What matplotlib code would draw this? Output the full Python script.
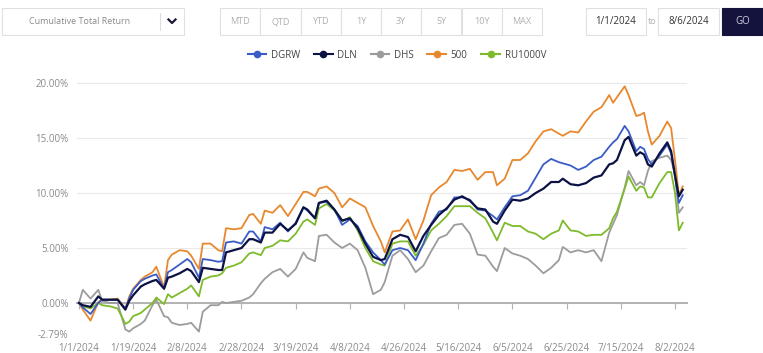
import matplotlib.pyplot as plt
from matplotlib.patches import Rectangle
from matplotlib.lines import Line2D

W, H = 763, 353

# trading-day index of each sample (0 = 1/1/2024)
idx = [0, 1, 3, 5, 6, 8, 10, 12, 13, 14,
       16, 17, 19, 20, 22, 23, 24, 26, 28, 29,
       31, 32, 34, 36, 37, 38, 40, 42, 44, 45,
       47, 48, 50, 52, 54, 56, 58, 59, 61, 62,
       64, 66, 68, 70, 72, 74, 76, 78, 79, 81,
       83, 85, 87, 89, 91, 93, 95, 97, 99, 101,
       103, 105, 107, 108, 110, 112, 114, 116, 118, 120,
       122, 124, 125, 127, 129, 131, 133, 135, 137, 138,
       139, 141, 142, 144, 145, 146, 147, 148, 150, 152,
       153, 154, 155, 156]

sp500 = [0.0, -0.6, -1.6, 0.1, 0.3, 0.3, 0.4, -0.5, 0.6, 1.3,
         2.1, 2.4, 2.8, 3.3, 1.4, 3.9, 4.4, 4.8, 4.7, 4.3,
         3.1, 5.4, 5.4, 4.8, 4.7, 6.8, 6.7, 6.8, 8.0, 8.1,
         7.2, 8.4, 8.2, 8.9, 7.9, 9.0, 10.1, 10.1, 9.7, 10.4,
         10.6, 10.0, 8.7, 9.5, 9.1, 8.7, 7.0, 5.6, 4.6, 6.5,
         6.6, 7.6, 5.8, 7.5, 9.8, 10.5, 11.0, 12.1, 12.0, 12.2,
         11.2, 11.9, 11.9, 10.7, 11.3, 13.0, 13.0, 13.6, 14.7, 15.6,
         15.8, 15.4, 15.2, 15.6, 15.5, 16.5, 17.4, 17.8, 18.9, 18.2,
         18.7, 19.7, 18.9, 17.0, 17.1, 17.3, 15.6, 14.4, 15.2, 16.5,
         15.9, 13.0, 9.8, 10.6]

dgrw = [0.0, -0.4, -1.0, 0.0, 0.3, 0.3, 0.3, -0.5, 0.4, 1.2,
        2.0, 2.2, 2.5, 2.6, 1.3, 2.8, 3.0, 3.5, 4.0, 3.7,
        2.3, 4.0, 3.9, 3.75, 3.8, 5.5, 5.6, 5.4, 6.5, 6.5,
        5.6, 6.9, 6.7, 7.3, 6.5, 7.3, 8.7, 8.4, 7.7, 9.1,
        9.2, 8.5, 7.1, 7.6, 7.0, 5.6, 4.6, 3.9, 3.5, 4.8,
        5.0, 4.8, 3.9, 5.4, 7.2, 8.3, 8.5, 9.6, 9.6, 9.4,
        8.5, 8.4, 7.9, 7.6, 8.7, 9.7, 9.8, 10.2, 11.4, 12.6,
        13.1, 12.8, 12.7, 12.5, 12.1, 12.4, 13.0, 13.3, 14.2, 14.6,
        14.9, 16.1, 15.6, 13.8, 14.2, 14.0, 13.1, 12.6, 13.4, 14.4,
        13.6, 11.5, 9.1, 9.8]

dln = [0.0, -0.2, -0.35, 0.6, 0.3, 0.3, 0.3, -0.6, 0.2, 0.7,
       1.5, 1.7, 2.0, 2.1, 1.3, 2.3, 2.4, 2.7, 3.1, 2.9,
       1.9, 3.2, 3.1, 3.0, 3.0, 4.6, 4.8, 5.0, 5.8, 5.8,
       5.5, 6.4, 6.4, 7.2, 6.6, 7.2, 8.7, 8.5, 7.7, 9.1,
       9.3, 8.5, 7.5, 7.7, 6.8, 5.4, 4.2, 3.9, 4.0, 5.8,
       6.2, 6.0, 4.7, 6.1, 7.1, 8.0, 8.6, 9.4, 9.7, 9.3,
       8.6, 8.5, 7.4, 7.2, 8.4, 9.4, 9.3, 9.5, 10.0, 10.4,
       11.0, 11.0, 11.3, 10.8, 10.7, 10.9, 11.4, 11.6, 12.6, 12.7,
       13.0, 14.8, 15.1, 13.4, 13.7, 13.5, 12.6, 12.4, 13.6, 14.6,
       13.8, 11.6, 9.7, 10.3]

ru1000v = [0.0, -0.3, -0.5, 0.0, -0.2, -0.3, -0.5, -1.9, -1.7, -1.2,
           -0.9, -0.6, 0.0, 0.5, -0.1, 0.8, 0.5, 0.9, 1.3, 1.6,
           0.6, 2.1, 2.4, 2.5, 2.7, 3.2, 3.4, 3.7, 4.5, 4.6,
           4.35, 5.0, 5.2, 5.7, 5.6, 6.3, 7.4, 7.6, 7.1, 8.6,
           9.0, 8.4, 7.4, 7.8, 6.6, 5.0, 3.8, 3.5, 3.4, 5.4,
           5.6, 5.6, 4.3, 5.3, 6.6, 7.2, 7.9, 8.8, 8.8, 8.8,
           8.2, 7.7, 6.4, 5.7, 7.3, 7.0, 7.0, 6.5, 6.3, 5.8,
           6.3, 6.6, 7.5, 6.6, 6.5, 6.1, 6.2, 6.2, 6.8, 7.7,
           8.3, 10.4, 11.5, 10.2, 10.6, 10.5, 9.6, 9.6, 10.9, 11.9,
           11.9, 10.0, 6.6, 7.3]

dhs = [0.0, 1.2, 0.4, 1.2, 0.2, 0.0, 0.0, -2.4, -2.6, -2.3,
       -1.9, -1.6, -0.2, 0.3, -1.2, -1.3, -1.8, -2.0, -1.9, -1.8,
       -2.6, -0.8, -0.2, -0.2, 0.1, 0.0, 0.1, 0.2, 0.5, 0.8,
       1.8, 2.2, 2.8, 3.1, 2.4, 3.1, 4.6, 4.1, 3.8, 6.1,
       6.2, 5.5, 5.0, 5.4, 4.8, 3.2, 0.8, 1.2, 1.9, 4.3,
       4.8, 4.0, 2.8, 3.4, 4.7, 5.9, 6.2, 7.1, 7.2, 6.3,
       4.4, 4.3, 3.3, 2.9, 5.0, 4.5, 4.3, 4.0, 3.4, 2.7,
       3.2, 3.9, 5.1, 4.6, 4.8, 4.6, 4.8, 3.8, 6.4, 7.2,
       8.0, 10.5, 12.0, 10.7, 11.0, 10.7, 12.0, 12.9, 13.2, 13.4,
       13.0, 11.7, 8.2, 8.7]

tick_idx = list(range(0, 155, 14))
tick_labels = ['1/1/2024', '1/19/2024', '2/8/2024', '2/28/2024', '3/19/2024',
               '4/8/2024', '4/26/2024', '5/16/2024', '6/5/2024', '6/25/2024',
               '7/15/2024', '8/2/2024']
y_ticks = [20, 15, 10, 5, 0, -2.79]
y_labels = ['20.00%', '15.00%', '10.00%', '5.00%', '0.00%', '-2.79%']
periods = ['MTD', 'QTD', 'YTD', '1Y', '3Y', '5Y', '10Y', 'MAX']

plt.rcParams['font.family'] = ['Open Sans', 'DejaVu Sans']

fig = plt.figure(figsize=(W / 100, H / 100), dpi=100)
ax = fig.add_axes([77 / W, 1 - 333.7 / H, 610 / W, (333.7 - 77.5) / H])

# draw order: gray/green/orange under the blues
series = [
    ('DHS', dhs, '#9c9c9c', 1.3, 2),
    ('RU1000V', ru1000v, '#7dbb2c', 1.3, 3),
    ('500', sp500, '#e8882e', 1.3, 4),
    ('DGRW', dgrw, '#3a5cc6', 1.3, 5),
    ('DLN', dln, '#0d1245', 1.6, 6),
]
lines = {}
for name, vals, color, lw, z in series:
    lines[name], = ax.plot(idx, vals, color=color, lw=lw, zorder=z,
                           solid_joinstyle='round')

ax.set_xlim(-0.5, 157.1)
ax.set_ylim(-2.79, 20.5)
ax.set_yticks(y_ticks)
ax.set_yticklabels(y_labels)
ax.set_xticks(tick_idx)
ax.set_xticklabels(tick_labels)
ax.yaxis.grid(True, color='#e9e9e9', lw=0.8)
ax.set_axisbelow(True)

for s in ['top', 'right', 'left']:
    ax.spines[s].set_visible(False)
ax.spines['bottom'].set_position(('data', 0))
ax.spines['bottom'].set_color('#b3b3b3')
ax.spines['bottom'].set_linewidth(1.4)
ax.spines['bottom'].set_zorder(1)
ax.tick_params(axis='x', length=4, color='#b3b3b3', pad=25,
               labelsize=7, labelcolor='#8a8a8a')
ax.tick_params(axis='y', length=0, pad=6, labelsize=7, labelcolor='#8a8a8a')

# legend
order = ['DGRW', 'DLN', 'DHS', '500', 'RU1000V']
handles = []
for name in order:
    ln = lines[name]
    handles.append(Line2D([], [], color=ln.get_color(), lw=1.5, marker='o',
                          markersize=4.5))
fig.legend(handles, order, loc='center', bbox_to_anchor=(397 / W, 1 - 55 / H),
           ncol=5, frameon=False, fontsize=7, handlelength=1.9,
           handletextpad=0.5, columnspacing=1.4, labelcolor='#444444')


# top control bar
def box(x0, y0, x1, y1, fc='white', ec='#e0e0e0'):
    fig.add_artist(Rectangle((x0 / W, 1 - y1 / H), (x1 - x0) / W, (y1 - y0) / H,
                             transform=fig.transFigure, fc=fc, ec=ec, lw=0.8))


def label(x, y, s, **kw):
    fig.text(x / W, 1 - y / H, s, ha='center', va='center', **kw)


box(2, 8, 184, 35)
label(80, 21.5, 'Cumulative Total Return', fontsize=6.5, color='#8a8a8a')
fig.add_artist(Line2D([160 / W, 160 / W], [1 - 13 / H, 1 - 30 / H],
                      transform=fig.transFigure, color='#dddddd', lw=0.8))
fig.add_artist(Line2D([168.5 / W, 172 / W, 175.5 / W],
                      [1 - 19.5 / H, 1 - 23 / H, 1 - 19.5 / H],
                      transform=fig.transFigure, color='#1a1a3a', lw=1.6))

bw = (542 - 220) / len(periods)
for i, p in enumerate(periods):
    x0 = 220 + i * bw
    box(x0, 8, x0 + bw, 35)
    label(x0 + bw / 2, 21.5, p, fontsize=6.5, color='#b0b0b0')

box(586, 8, 646, 35)
label(616, 21.5, '1/1/2024', fontsize=7, color='#333333')
label(652, 21.5, 'to', fontsize=6.5, color='#b0b0b0')
box(658, 8, 719, 35)
label(688.5, 21.5, '8/6/2024', fontsize=7, color='#333333')
box(722, 8, 763, 35, fc='#13133d', ec='#13133d')
label(742.5, 21.5, 'GO', fontsize=7, color='#d0d0e0')

fig.savefig('out.png', dpi=100)
